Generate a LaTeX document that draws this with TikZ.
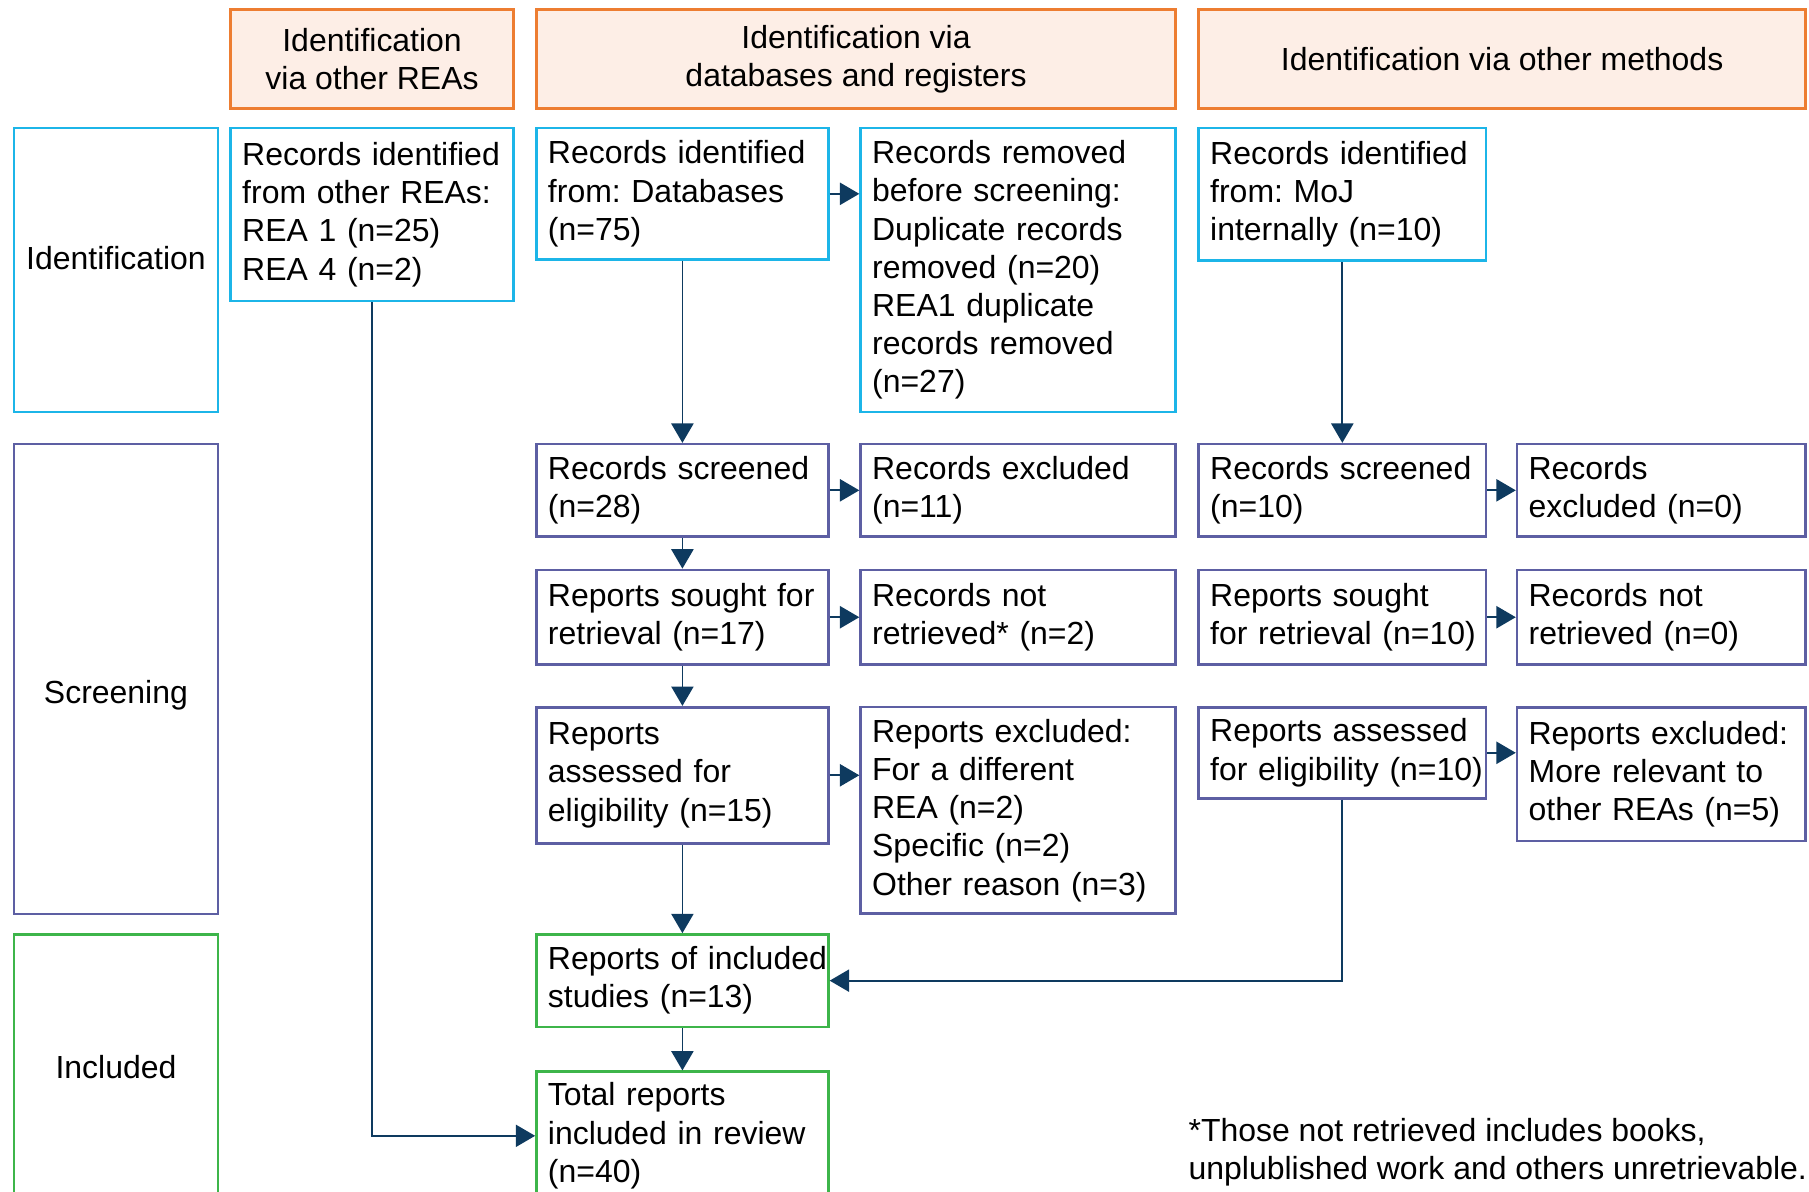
\documentclass[tikz,border=0pt]{standalone}
\usepackage{fontspec}
\setmainfont{Liberation Sans}
\usepackage{tikz}
\usetikzlibrary{arrows.meta,positioning}
\frenchspacing
\definecolor{hdrline}{HTML}{ED7D31}
\definecolor{hdrfill}{HTML}{FDEEE6}
\definecolor{idline}{HTML}{1CB5E8}
\definecolor{scrline}{HTML}{5D5FA3}
\definecolor{incline}{HTML}{3DB54A}
\definecolor{linkcol}{HTML}{0E3A5F}
\tikzset{
every node/.style={font=\fontsize{19.7}{23.5}\selectfont}, % Arial-like text everywhere
hdr/.style={draw=hdrline, fill=hdrfill, line width=1.6pt, align=center, minimum height=2.15cm, inner sep=0pt}, % column headings
phase/.style={draw=#1, line width=1.6pt, minimum width=4.425cm}, % stage boxes on the left
box/.style={draw=#1, line width=1.6pt, align=left, inner xsep=0.25cm, inner ysep=0.1cm}, % flow boxes
colA/.style={text width=5.625cm},
colB/.style={text width=5.825cm},
colC/.style={text width=6.325cm},
colD/.style={text width=5.725cm},
colE/.style={text width=5.75cm},
link/.style={draw=linkcol, line width=1.1pt, -{Triangle[length=0.42cm,width=0.48cm]}}
}
\begin{document}
\begin{tikzpicture}[x=0.025cm, y=-0.025cm]
    \useasboundingbox (0,0) rectangle (1568,1033);
    % headings
    \node[hdr, minimum width=6.125cm] (hother) at (322.5,51) {Identification\\via other REAs};
    \node[hdr, minimum width=13.85cm] (hdb) at (742,51) {Identification via\\databases and registers};
    \node[hdr, minimum width=13.15cm] (hmeth) at (1302,51) {Identification via other methods};
    % stages
    \node[phase=idline, minimum height=6.15cm] (pid) at (100.5,234) {};
    \node[phase=scrline, minimum height=10.175cm] (pscr) at (100.5,588.5) {};
    \node[phase=incline, minimum height=5.75cm] (pinc) at (100.5,925) {};
    \node (lid) at (100.5,224) {Identification};
    \node (lscr) at (100.5,603) {Screening};
    \node (linc) at (100.5,925) {Included};
    % other REAs
    \node[box=idline, colA, minimum height=3.75cm] (rea) at (322.5,186) {Records identified\\from other REAs:\\REA 1 (n=25)\\REA 4 (n=2)};
    % databases and registers
    \node[box=idline, colB, minimum height=2.85cm] (db) at (591.5,168) {Records identified\\from: Databases\\(n=75)};
    \node[box=scrline, colB, minimum height=2cm] (scrB) at (591.5,425) {Records screened\\(n=28)};
    \node[box=scrline, colB, minimum height=2.05cm] (soughtB) at (591.5,535) {Reports sought for\\retrieval (n=17)};
    \node[box=scrline, colB, minimum height=2.95cm] (assB) at (591.5,672) {Reports\\assessed for\\eligibility (n=15)};
    \node[box=incline, colB, minimum height=2cm] (incB) at (591.5,850) {\mbox{Reports of included}\\studies (n=13)};
    \node[box=incline, colB, minimum height=2.775cm] (total) at (591.5,984.5) {Total reports\\included in review\\(n=40)};
    \node[box=idline, colC, minimum height=6.15cm] (removed) at (882.5,234) {Records removed\\before screening:\\Duplicate records\\removed (n=20)\\REA1 duplicate\\records removed\\(n=27)};
    \node[box=scrline, colC, minimum height=2cm] (exclC) at (882.5,425) {Records excluded\\(n=11)};
    \node[box=scrline, colC, minimum height=2.05cm] (notretC) at (882.5,535) {Records not\\retrieved* (n=2)};
    \node[box=scrline, colC, minimum height=4.475cm] (repexC) at (882.5,702.5) {Reports excluded:\\For a different\\REA (n=2)\\Specific (n=2)\\Other reason (n=3)};
    % other methods
    \node[box=idline, colD, minimum height=2.875cm] (moj) at (1163.5,168.5) {Records identified\\from: MoJ\\internally (n=10)};
    \node[box=scrline, colD, minimum height=2cm] (scrD) at (1163.5,425) {Records screened\\(n=10)};
    \node[box=scrline, colD, minimum height=2.05cm] (soughtD) at (1163.5,535) {Reports sought\\\mbox{for retrieval (n=10)}};
    \node[box=scrline, colD, minimum height=1.975cm] (assD) at (1163.5,652.5) {Reports assessed\\\mbox{for eligibility (n=10)}};
    \node[box=scrline, colE, minimum height=2cm] (exclE) at (1440,425) {Records\\excluded (n=0)};
    \node[box=scrline, colE, minimum height=2.05cm] (notretE) at (1440,535) {Records not\\retrieved (n=0)};
    \node[box=scrline, colE, minimum height=2.9cm] (repexE) at (1440,671) {Reports excluded:\\More relevant to\\other REAs (n=5)};
    % footnote
    \node[anchor=west, align=left, inner xsep=0pt] (fnote) at (1030,999) {*Those not retrieved includes books,\\unplublished work and others unretrievable.};
    % links
    \draw[link] (rea.south) |- (total.west);
    \draw[link] (db) -- (scrB);
    \draw[link] (scrB) -- (soughtB);
    \draw[link] (soughtB) -- (assB);
    \draw[link] (assB) -- (incB);
    \draw[link] (incB) -- (total);
    \draw[link] (db.east) -- (db.east -| removed.west);
    \draw[link] (scrB) -- (exclC);
    \draw[link] (soughtB) -- (notretC);
    \draw[link] (assB.east) -- (assB.east -| repexC.west);
    \draw[link] (moj) -- (scrD);
    \draw[link] (scrD) -- (exclE);
    \draw[link] (soughtD) -- (notretE);
    \draw[link] (assD.east) -- (assD.east -| repexE.west);
    \draw[link] (assD.south) |- (incB.east);
\end{tikzpicture}
\end{document}
